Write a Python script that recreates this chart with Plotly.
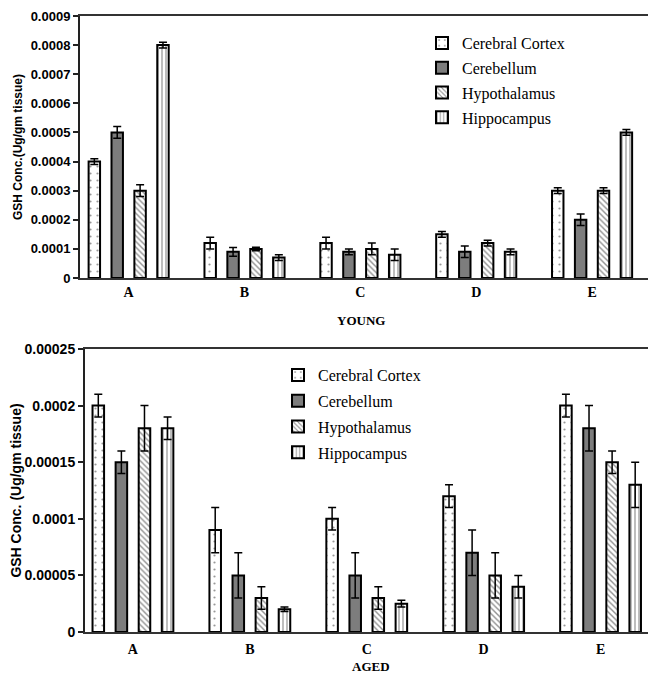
import plotly.graph_objects as go

categories = ["A", "B", "C", "D", "E"]
regions = ["Cerebral Cortex", "Cerebellum", "Hypothalamus", "Hippocampus"]

# YOUNG panel values and errors
young_cc = [0.0004, 0.00012, 0.00012, 0.00015, 0.0003]
young_cb = [0.0005, 0.00009, 0.00009, 0.00009, 0.0002]
young_ht = [0.0003, 0.0001, 0.0001, 0.00012, 0.0003]
young_hc = [0.0008, 0.00007, 0.00008, 0.00009, 0.0005]
young_cc_err = [0.00001, 0.00002, 0.00002, 0.00001, 0.00001]
young_cb_err = [0.00002, 0.000015, 0.00001, 0.00002, 0.00002]
young_ht_err = [0.00002, 0.000006, 0.00002, 0.00001, 0.00001]
young_hc_err = [0.00001, 0.00001, 0.00002, 0.00001, 0.00001]

# AGED panel values and errors
aged_cc = [0.0002, 0.00009, 0.0001, 0.00012, 0.0002]
aged_cb = [0.00015, 0.00005, 0.00005, 0.00007, 0.00018]
aged_ht = [0.00018, 0.00003, 0.00003, 0.00005, 0.00015]
aged_hc = [0.00018, 0.00002, 0.000025, 0.00004, 0.00013]
aged_cc_err = [0.00001, 0.00002, 0.00001, 0.00001, 0.00001]
aged_cb_err = [0.00001, 0.00002, 0.00002, 0.00002, 0.00002]
aged_ht_err = [0.00002, 0.00001, 0.00001, 0.00002, 0.00001]
aged_hc_err = [0.00001, 0.000002, 0.000003, 0.00001, 0.00002]

young_ticks = [0, 0.0001, 0.0002, 0.0003, 0.0004, 0.0005, 0.0006, 0.0007, 0.0008, 0.0009]
young_ticktext = ["0", "0.0001", "0.0002", "0.0003", "0.0004", "0.0005", "0.0006", "0.0007", "0.0008", "0.0009"]
aged_ticks = [0, 0.00005, 0.0001, 0.00015, 0.0002, 0.00025]
aged_ticktext = ["0", "0.00005", "0.0001", "0.00015", "0.0002", "0.00025"]

styles = [
    dict(color="white", pattern=dict(shape=".", fgcolor="#333333", bgcolor="white", size=7, solidity=0.08)),
    dict(color="#7d7d7d", pattern=dict(shape="", fgcolor="#555555", bgcolor="#7d7d7d")),
    dict(color="white", pattern=dict(shape="\\", fgcolor="#222222", bgcolor="white", size=4, solidity=0.35)),
    dict(color="white", pattern=dict(shape="|", fgcolor="#222222", bgcolor="white", size=4, solidity=0.3)),
]

# page offset (browser body margin) compensation
W, H, OFF = 648, 677, 8
def px(X):
    return (X - OFF) / W
def py(Y):
    return 1 - (Y - OFF) / H

fig = go.Figure()

young = [(young_cc, young_cc_err), (young_cb, young_cb_err), (young_ht, young_ht_err), (young_hc, young_hc_err)]
aged = [(aged_cc, aged_cc_err), (aged_cb, aged_cb_err), (aged_ht, aged_ht_err), (aged_hc, aged_hc_err)]

for i, (vals, errs) in enumerate(young):
    st = styles[i]
    fig.add_trace(go.Bar(
        x=categories, y=vals, name=regions[i], xaxis="x", yaxis="y",
        legend="legend", legendgroup="y%d" % i,
        marker=dict(color=st["color"], pattern=st["pattern"], line=dict(color="black", width=2)),
        error_y=dict(type="data", array=errs, visible=True, color="black", thickness=1.5, width=4),
    ))

for i, (vals, errs) in enumerate(aged):
    st = styles[i]
    fig.add_trace(go.Bar(
        x=categories, y=vals, name=regions[i], xaxis="x2", yaxis="y2",
        legend="legend2", legendgroup="a%d" % i,
        marker=dict(color=st["color"], pattern=st["pattern"], line=dict(color="black", width=2)),
        error_y=dict(type="data", array=errs, visible=True, color="black", thickness=1.5, width=4),
    ))

serif = "Liberation Serif"
sans = "Liberation Sans"

fig.update_layout(
    width=W, height=H,
    margin=dict(l=0, r=0, t=0, b=0, autoexpand=False),
    paper_bgcolor="white", plot_bgcolor="white",
    barmode="group", bargap=0.21, bargroupgap=0.5,
    showlegend=True,
    xaxis=dict(domain=[px(80), px(650)], anchor="y", range=[-0.42, 4.5], automargin=False,
               showline=True, linecolor="#333333", linewidth=1.5, mirror=True,
               ticks="", tickfont=dict(family=serif, size=14, color="black", weight="bold"),
               showgrid=False),
    yaxis=dict(domain=[py(278), py(16)], anchor="x", range=[0, 0.0009], automargin=False,
               tickvals=young_ticks, ticktext=young_ticktext, ticklabeloverflow="allow",
               showline=True, linecolor="#222222", linewidth=2, mirror=True,
               ticks="outside", ticklen=5, tickwidth=1.5, tickcolor="#222222",
               tickfont=dict(family=sans, size=13, color="black", weight="bold"),
               title=dict(text="GSH Conc.(Ug/gm tissue)", font=dict(family=sans, size=12, color="black", weight="bold"), standoff=5),
               showgrid=False, zeroline=False),
    xaxis2=dict(domain=[px(85), px(652)], anchor="y2", range=[-0.41, 4.44], automargin=False,
                showline=True, linecolor="#333333", linewidth=1.5, mirror=True,
                ticks="", ticklabelstandoff=3,
                tickfont=dict(family=serif, size=14, color="black", weight="bold"),
                showgrid=False),
    yaxis2=dict(domain=[py(632), py(349)], anchor="x2", range=[0, 0.00025], automargin=False,
                tickvals=aged_ticks, ticktext=aged_ticktext, ticklabeloverflow="allow",
                showline=True, linecolor="#222222", linewidth=2, mirror=True,
                ticks="outside", ticklen=5, tickwidth=1.5, tickcolor="#222222",
                tickfont=dict(family=sans, size=14, color="black", weight="bold"),
                title=dict(text="GSH Conc. (Ug/gm tissue)", font=dict(family=sans, size=14, color="black", weight="bold"), standoff=4),
                showgrid=False, zeroline=False),
    legend=dict(x=px(422), y=py(26), xanchor="left", yanchor="top",
                font=dict(family=serif, size=16, color="black"),
                bgcolor="rgba(0,0,0,0)", tracegroupgap=1, itemwidth=30),
    legend2=dict(x=px(278), y=py(358), xanchor="left", yanchor="top",
                 font=dict(family=serif, size=16, color="black"),
                 bgcolor="rgba(0,0,0,0)", tracegroupgap=2, itemwidth=30),
    annotations=[
        dict(text="YOUNG", x=px(361), y=py(320), xref="paper", yref="paper", showarrow=False,
             font=dict(family=serif, size=13, color="black", weight="bold")),
        dict(text="AGED", x=px(371), y=py(676), xref="paper", yref="paper", showarrow=False,
             font=dict(family=serif, size=13, color="black", weight="bold")),
    ],
)

fig.write_html("out.html")
